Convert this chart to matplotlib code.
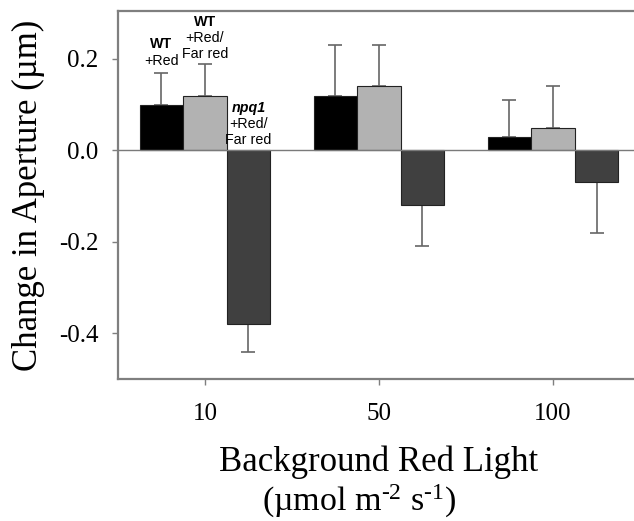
import matplotlib.pyplot as plt
import numpy as np

plt.rcParams["mathtext.fontset"] = "custom"
plt.rcParams["mathtext.rm"] = "Liberation Serif"
plt.rcParams["mathtext.it"] = "Liberation Serif:italic"

# background red light levels (umol m-2 s-1)
light = ["10", "50", "100"]

wt_red = [0.10, 0.12, 0.03]
wt_red_err = [0.07, 0.11, 0.08]

wt_farred = [0.12, 0.14, 0.05]
wt_farred_err = [0.07, 0.09, 0.09]

npq1_farred = [-0.38, -0.12, -0.07]
npq1_farred_err = [0.06, 0.09, 0.11]

fig = plt.figure(figsize=(6.34, 5.21), dpi=100)
ax = fig.add_axes([0.186, 0.2726, 0.8235, 0.7064])

x = np.arange(len(light))
w = 0.25
series = [
    (wt_red, wt_red_err, "#000000", -w),
    (wt_farred, wt_farred_err, "#b2b2b2", 0),
    (npq1_farred, npq1_farred_err, "#404040", w),
]
for vals, errs, col, off in series:
    vals = np.array(vals)
    errs = np.array(errs)
    # one-sided error bars pointing away from zero
    lo = np.where(vals < 0, errs, 0)
    hi = np.where(vals >= 0, errs, 0)
    ax.bar(x + off, vals, width=w, color=col, edgecolor="#222222", linewidth=0.8, zorder=2)
    ax.errorbar(x + off, vals, yerr=[lo, hi], fmt="none", ecolor="#666666",
                elinewidth=1.2, capsize=5, capthick=1.2, zorder=1)

ax.axhline(0, color="#7a7a7a", linewidth=1, zorder=3)

ax.set_xlim(-0.5, 2.5)
ax.set_ylim(-0.5, 0.305)
ax.set_yticks([-0.4, -0.2, 0.0, 0.2])
ax.set_yticklabels(["-0.4", "-0.2", "0.0", "0.2"])
ax.set_xticks(x)
ax.set_xticklabels(light)

for s in ax.spines.values():
    s.set_color("#7f7f7f")
    s.set_linewidth(1.6)

ax.tick_params(direction="out", length=4, width=1, color="#7f7f7f", labelsize=18)
ax.tick_params(axis="y", pad=10)
ax.tick_params(axis="x", pad=13)
for lab in ax.get_xticklabels() + ax.get_yticklabels():
    lab.set_family("Liberation Serif")

ax.set_ylabel("Change in Aperture (\u00b5m)", family="Liberation Serif", fontsize=25, labelpad=10)
ax.set_xlabel("Background Red Light", family="Liberation Serif", fontsize=25, labelpad=15)
ax.text(0.4617, -0.333, "(\u00b5mol m$^{\\text{-2}}$ s$^{\\text{-1}}$)", transform=ax.transAxes,
        ha="center", va="center", family="Liberation Serif", fontsize=24.5)

# annotations above the first group
sans = "Liberation Sans"
ax.text(x[0] - w, 0.224, "WT", ha="center", fontsize=10.3, weight="bold", family=sans)
ax.text(x[0] - w, 0.187, "+Red", ha="center", fontsize=10.3, family=sans)
ax.text(x[0], 0.273, "WT", ha="center", fontsize=10.3, weight="bold", family=sans)
ax.text(x[0], 0.237, "+Red/", ha="center", fontsize=10.3, family=sans)
ax.text(x[0], 0.203, "Far red", ha="center", fontsize=10.3, family=sans)
ax.text(x[0] + w, 0.083, "npq1", ha="center", fontsize=10.3, weight="bold", style="italic", family=sans)
ax.text(x[0] + w, 0.048, "+Red/", ha="center", fontsize=10.3, family=sans)
ax.text(x[0] + w, 0.013, "Far red", ha="center", fontsize=10.3, family=sans)

fig.savefig("out.png", dpi=100)
